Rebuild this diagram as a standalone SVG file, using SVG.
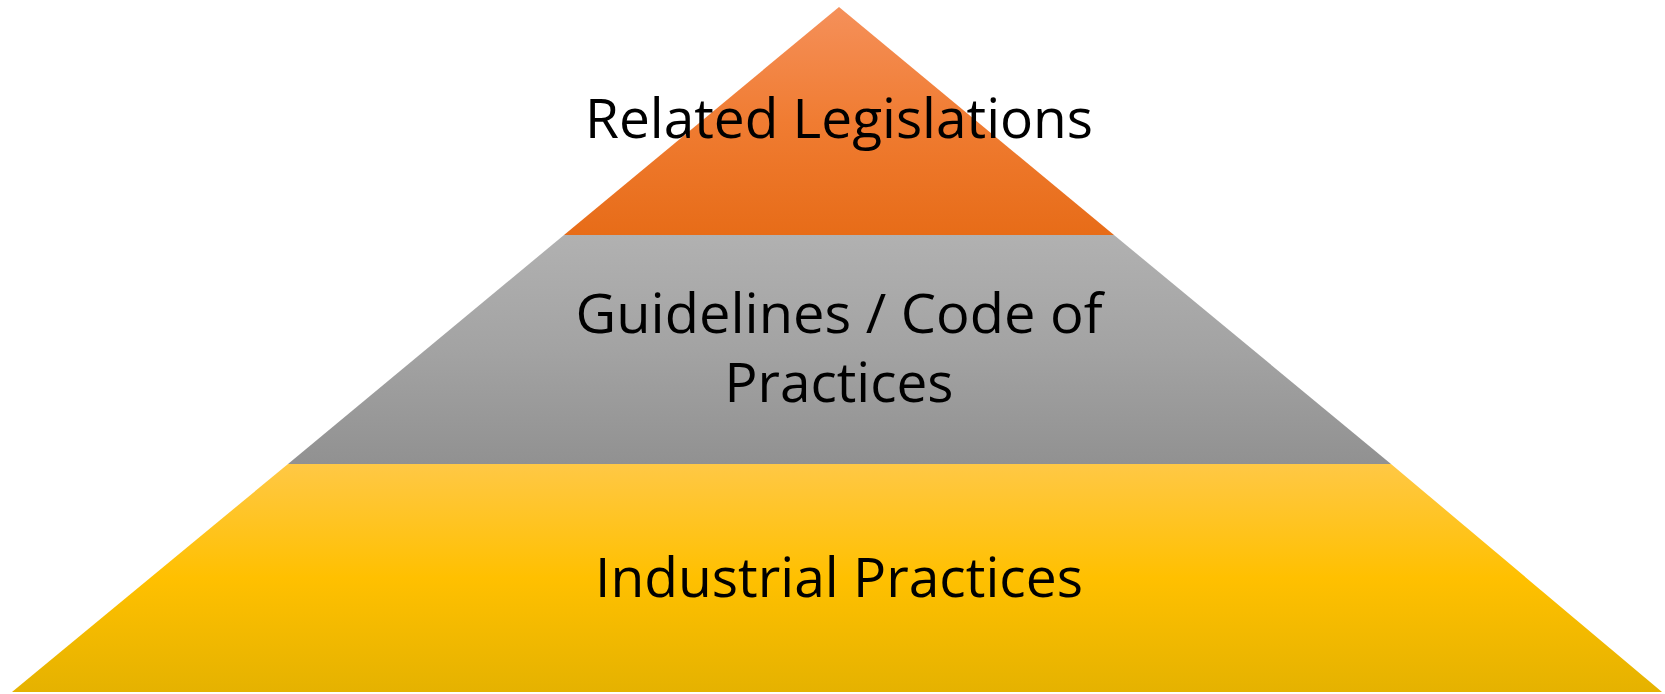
<svg xmlns="http://www.w3.org/2000/svg" width="1665" height="694" viewBox="0 0 1665 694">
<defs>
<linearGradient id="gOrange" x1="0" y1="0" x2="0" y2="1">
<stop offset="0" stop-color="#F5905A"/>
<stop offset="0.5" stop-color="#F07C32"/>
<stop offset="1" stop-color="#E76C18"/>
</linearGradient>
<linearGradient id="gGray" x1="0" y1="0" x2="0" y2="1">
<stop offset="0" stop-color="#B1B1B1"/>
<stop offset="0.5" stop-color="#A3A3A3"/>
<stop offset="1" stop-color="#919191"/>
</linearGradient>
<linearGradient id="gYellow" x1="0" y1="0" x2="0" y2="1">
<stop offset="0" stop-color="#FFC845"/>
<stop offset="0.5" stop-color="#FFC000"/>
<stop offset="1" stop-color="#E5B200"/>
</linearGradient>
</defs>
<style>
.lbl{font-family:"Open Sans","Liberation Sans",sans-serif;font-size:55px;fill:#000;text-anchor:middle}
</style>
<rect width="1665" height="694" fill="#FFFFFF"/>
<g id="layer-top">
<polygon points="839,7 1114,235 564,235" fill="url(#gOrange)"/>
<text class="lbl" x="839" y="138" textLength="508" lengthAdjust="spacingAndGlyphs">Related Legislations</text>
</g>
<g id="layer-middle">
<polygon points="564,235 1114,235 1391,464 288,464" fill="url(#gGray)"/>
<text class="lbl" x="839" y="333" textLength="527" lengthAdjust="spacingAndGlyphs">Guidelines / Code of</text>
<text class="lbl" x="839" y="402" textLength="229" lengthAdjust="spacingAndGlyphs">Practices</text>
</g>
<g id="layer-bottom">
<polygon points="288,464 1391,464 1662,692 12,692" fill="url(#gYellow)"/>
<text class="lbl" x="839" y="597" textLength="488" lengthAdjust="spacingAndGlyphs">Industrial Practices</text>
</g>
<g id="connectors"/>
</svg>
